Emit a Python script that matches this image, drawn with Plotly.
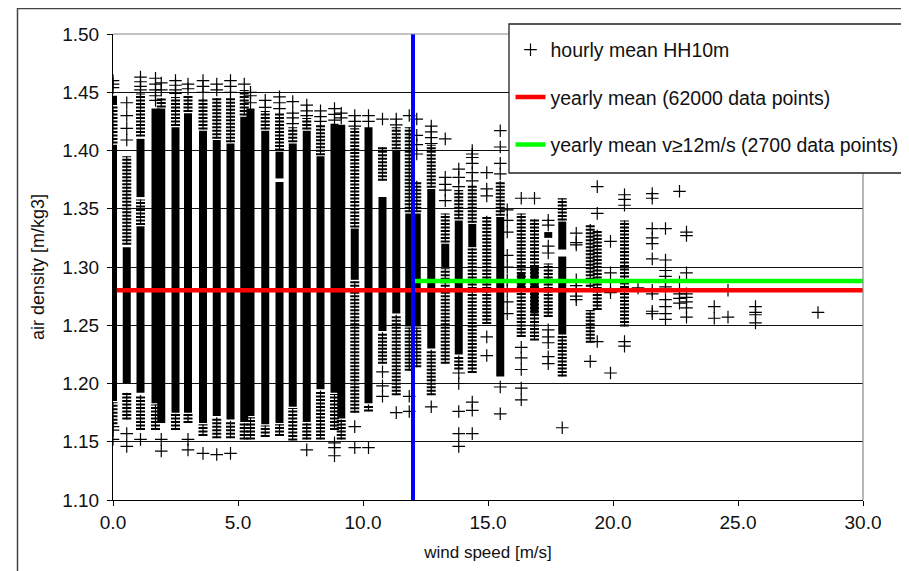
import plotly.graph_objects as go

# wind speed classes (m/s) where the hourly values pile up
wind_cols = [0.0, 0.55, 1.10, 1.70, 1.93, 2.50, 3.00, 3.60, 4.15, 4.70,
             5.25, 5.50, 6.09, 6.66, 7.19, 7.75, 8.30, 8.86, 9.13, 9.67,
             10.22, 10.78, 11.33, 11.85, 12.15, 12.73, 13.29, 13.83, 14.37, 14.95,
             15.49, 15.77, 16.33, 16.86, 17.41, 17.97, 18.53, 19.09, 19.37, 19.90,
             20.46, 21.00, 21.57, 22.10, 22.66, 22.94, 24.05, 24.60, 25.70, 28.20]

# densely packed stretches (air density ranges) per wind class
solid_ranges = [
    [(1.185, 1.405), (1.439, 1.447)], [(1.200, 1.317)], [(1.360, 1.410), (1.192, 1.335)],
    [(1.183, 1.436)], [(1.166, 1.436)], [(1.175, 1.420)], [(1.175, 1.432)], [(1.166, 1.417)],
    [(1.172, 1.409)], [(1.169, 1.406)], [(1.167, 1.429)], [(1.172, 1.436)], [(1.165, 1.417)],
    [(1.166, 1.373), (1.376, 1.399)], [(1.180, 1.406)], [(1.167, 1.417)], [(1.195, 1.395)],
    [(1.192, 1.423)], [(1.170, 1.422)], [(1.289, 1.333)], [(1.183, 1.420)], [(1.245, 1.360)],
    [(1.260, 1.400)], [(1.249, 1.346)], [(1.249, 1.346)], [(1.230, 1.367)], [(1.300, 1.320)],
    [(1.225, 1.340)], [(1.317, 1.337)], [], [(1.206, 1.343)], [], [(1.280, 1.294)],
    [(1.260, 1.300)], [(1.325, 1.330)], [(1.315, 1.339), (1.242, 1.309)], [], [], [], [],
    [], [], [], [], [], [], [], [], [], [],
]

# loosely stacked stretches per wind class
broken_ranges = [
    [(1.406, 1.438), (1.165, 1.184)], [(1.319, 1.395), (1.169, 1.192)],
    [(1.412, 1.449), (1.336, 1.358), (1.160, 1.190)], [(1.160, 1.182)], [(1.437, 1.445)],
    [(1.421, 1.446), (1.160, 1.174)], [(1.433, 1.447), (1.166, 1.174)], [(1.418, 1.445), (1.155, 1.165)],
    [(1.410, 1.445), (1.153, 1.171)], [(1.407, 1.445), (1.153, 1.168)], [(1.430, 1.452), (1.152, 1.166)],
    [(1.152, 1.171)], [(1.418, 1.434), (1.154, 1.164)], [(1.400, 1.433), (1.155, 1.165)],
    [(1.407, 1.420), (1.151, 1.179)], [(1.418, 1.428), (1.152, 1.166)], [(1.396, 1.423), (1.152, 1.194)],
    [(1.160, 1.191)], [(1.152, 1.169)], [(1.334, 1.419), (1.175, 1.288)], [(1.176, 1.182)],
    [(1.374, 1.403), (1.217, 1.244)], [(1.401, 1.420), (1.190, 1.259)], [(1.347, 1.420), (1.211, 1.248)],
    [(1.347, 1.374), (1.214, 1.248)], [(1.368, 1.405), (1.190, 1.229)], [(1.217, 1.299), (1.321, 1.346)],
    [(1.341, 1.366), (1.212, 1.224)], [(1.338, 1.370), (1.209, 1.316)], [(1.251, 1.344)],
    [(1.344, 1.374)], [], [(1.240, 1.346)], [(1.237, 1.341)], [(1.257, 1.303)],
    [(1.340, 1.359), (1.206, 1.241)], [], [(1.280, 1.337), (1.235, 1.263)], [(1.263, 1.332)], [],
    [(1.249, 1.340)], [], [], [], [], [], [], [], [], [],
]

# single hourly values standing apart
single_points = [
    [1.460, 1.457, 1.454, 1.163, 1.160, 1.152],
    [1.441, 1.430, 1.419, 1.409, 1.157, 1.146],
    [1.463, 1.459, 1.455, 1.452, 1.152],
    [1.462, 1.457, 1.452, 1.447, 1.443],
    [1.458, 1.452, 1.152, 1.142],
    [1.460, 1.456, 1.452, 1.449],
    [1.457, 1.453, 1.152, 1.143],
    [1.460, 1.455, 1.450, 1.140],
    [1.457, 1.452, 1.139],
    [1.460, 1.455, 1.450, 1.140],
    [1.457],
    [1.450, 1.447, 1.441],
    [1.443, 1.437],
    [1.446, 1.441, 1.436],
    [1.442, 1.432, 1.428, 1.423],
    [1.439, 1.434, 1.430, 1.143],
    [1.434, 1.429, 1.425],
    [1.436, 1.431, 1.426, 1.149, 1.145, 1.138],
    [1.432, 1.428],
    [1.430, 1.425, 1.421, 1.163, 1.145],
    [1.430, 1.425, 1.145],
    [1.427, 1.210, 1.198, 1.189],
    [1.427, 1.422, 1.175],
    [1.430, 1.189, 1.176],
    [1.427, 1.413, 1.405, 1.397],
    [1.421, 1.416, 1.411, 1.406, 1.180],
    [1.410, 1.377, 1.371, 1.366, 1.357],
    [1.384, 1.377, 1.369, 1.209, 1.200, 1.176, 1.157, 1.146],
    [1.400, 1.397, 1.394, 1.389, 1.381, 1.374, 1.184, 1.177, 1.157],
    [1.381, 1.367, 1.361, 1.240, 1.224],
    [1.417, 1.403, 1.389, 1.380, 1.197, 1.174],
    [1.349, 1.340, 1.330, 1.310, 1.300, 1.289, 1.280, 1.270, 1.260],
    [1.359, 1.231, 1.222, 1.212, 1.196, 1.186],
    [1.359],
    [1.340, 1.336, 1.318, 1.312, 1.246, 1.240, 1.235, 1.223, 1.217],
    [1.162],
    [1.329, 1.321, 1.319, 1.289, 1.284, 1.279, 1.275, 1.272],
    [1.219],
    [1.369, 1.346, 1.236],
    [1.322, 1.295, 1.281, 1.278, 1.209],
    [1.362, 1.358, 1.353, 1.236, 1.232],
    [1.282],
    [1.363, 1.359, 1.333, 1.325, 1.320, 1.307, 1.280, 1.277, 1.262, 1.260],
    [1.333, 1.306, 1.297, 1.292, 1.287, 1.283, 1.272, 1.266, 1.260, 1.255],
    [1.365, 1.287, 1.277, 1.273, 1.269],
    [1.330, 1.327, 1.295, 1.277, 1.274, 1.270, 1.265, 1.257],
    [1.266, 1.256],
    [1.280, 1.257],
    [1.266, 1.261, 1.259, 1.252],
    [1.261],
]

yearly_mean = 1.280
yearly_mean_v12 = 1.288
v_limit = 12.0
x_start, x_end = 0.15, 30.0

FONT = "Liberation Sans, Arial, sans-serif"


def segs(ranges):
    xs, ys = [], []
    for x, rr in zip(wind_cols, ranges):
        for lo, hi in rr:
            xs += [x, x, None]
            ys += [lo, hi, None]
    return xs, ys


sx, sy = segs(solid_ranges)
bx, by = segs(broken_ranges)
px, py = [], []
for x, pts in zip(wind_cols, single_points):
    px += [x] * len(pts)
    py += pts

fig = go.Figure()
fig.add_trace(go.Scatter(x=bx, y=by, mode='lines', showlegend=False, hoverinfo='skip',
                         line=dict(color='black', width=9, dash='2px,1.5px')))
fig.add_trace(go.Scatter(x=bx, y=by, mode='lines', showlegend=False, hoverinfo='skip',
                         line=dict(color='black', width=1.2)))
fig.add_trace(go.Scatter(x=sx, y=sy, mode='lines', showlegend=False, hoverinfo='skip',
                         line=dict(color='black', width=8)))
fig.add_trace(go.Scatter(x=px, y=py, mode='markers', name='hourly mean HH10m',
                         legendgroup='a',
                         marker=dict(symbol='cross-thin', size=9, color='black',
                                     line=dict(color='black', width=1.2))))
fig.add_trace(go.Scatter(x=[x_start, x_end], y=[yearly_mean, yearly_mean], mode='lines',
                         name='yearly mean (62000 data points)', legendgroup='b',
                         line=dict(color='#ff0000', width=4.5)))
fig.add_trace(go.Scatter(x=[v_limit, x_end], y=[yearly_mean_v12, yearly_mean_v12], mode='lines',
                         name='yearly mean v\u226512m/s (2700 data points)', legendgroup='c',
                         line=dict(color='#00ff00', width=4.5)))

fig.add_vline(x=v_limit, line=dict(color='#0000ff', width=4), layer='above')

# page body has an 8px margin, so the figure sits 8px in from the window corner;
# the figure is made a bit larger than the window so the legend never squeezes the plot
OFF = 8
L, T, W, H = 113, 34, 750, 466
FW, FH = 909 + 2 * OFF, 571 + 2 * OFF


def pxx(p):
    return (p - L) / W


def pxy(p):
    return (T + H - p) / H


# plot border top/right (grey)
fig.add_shape(type='line', xref='paper', yref='paper', x0=0, x1=1, y0=1, y1=1,
              line=dict(color='#888888', width=1.2), layer='above')
fig.add_shape(type='line', xref='paper', yref='paper', x0=1, x1=1, y0=0, y1=1,
              line=dict(color='#888888', width=1.2), layer='above')
# outer frame
fig.add_shape(type='rect', xref='paper', yref='paper', x0=pxx(17.5), x1=pxx(940),
              y0=pxy(600), y1=pxy(8.5), line=dict(color='#444444', width=1.5), layer='above')
# legend box
fig.add_shape(type='rect', xref='paper', yref='paper', x0=pxx(509), x1=pxx(907),
              y0=pxy(173), y1=pxy(24), fillcolor='white',
              line=dict(color='#222222', width=1.3), layer='above')

fig.update_layout(
    width=FW, height=FH,
    margin=dict(l=L - OFF, r=FW - (L - OFF) - W, t=T - OFF, b=FH - (T - OFF) - H),
    plot_bgcolor='white', paper_bgcolor='white',
    font=dict(family=FONT, color='#111111'),
    legend=dict(x=pxx(510.5), y=pxy(30.5), xanchor='left', yanchor='top',
                bgcolor='rgba(0,0,0,0)', borderwidth=0, tracegroupgap=19,
                font=dict(size=19.5, family=FONT, color='#111111'), itemwidth=30),
    xaxis=dict(range=[0, 30], tick0=0, dtick=5, tickformat='.1f', showgrid=False,
               zeroline=False, showline=True, linecolor='black', linewidth=1,
               ticks='outside', ticklen=5, tickcolor='black',
               tickfont=dict(size=19),
               title=dict(text='wind speed [m/s]', font=dict(size=17), standoff=14)),
    yaxis=dict(range=[1.10, 1.50], tick0=1.10, dtick=0.05, tickformat='.2f',
               showgrid=True, gridcolor='#111111', gridwidth=1, zeroline=False,
               showline=True, linecolor='black', linewidth=1,
               ticks='outside', ticklen=5, tickcolor='black',
               tickfont=dict(size=19), ticklabelstandoff=4,
               title=dict(text='air density [m/kg3]', font=dict(size=18), standoff=12)),
)

fig.write_html("out.html")
